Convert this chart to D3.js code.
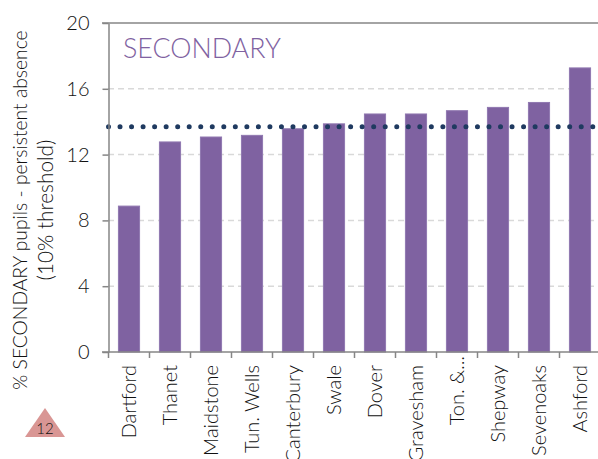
<!DOCTYPE html>
<html><head><meta charset="utf-8"><style>html,body{margin:0;background:#fff;overflow:hidden}svg{display:block}text{font-family:Lato,sans-serif;font-weight:300;fill:#111}</style>
<script src="https://cdn.jsdelivr.net/npm/d3@7"></script></head><body><script>
const categories=["Dartford","Thanet","Maidstone","Tun. Wells","Canterbury","Swale","Dover","Gravesham","Ton. &...","Shepway","Sevenoaks","Ashford"];
const values=[8.9,12.8,13.1,13.2,13.6,13.9,14.5,14.5,14.7,14.9,15.2,17.3];
const yTicks=[0,4,8,12,16,20];
const threshold=[13.7];
const svg=d3.select("body").append("svg").attr("width",598).attr("height",459);
const x=d3.scaleBand().domain(categories).range([108.5,600.5]).paddingInner(0.46).paddingOuter(0.23);
const y=d3.scaleLinear().domain([0,20]).range([352,23]);
svg.selectAll("line.g").data(yTicks.slice(1,-1)).join("line").attr("x1",108).attr("x2",598).attr("y1",d=>y(d)).attr("y2",d=>y(d)).attr("stroke","#d9d9d9").attr("stroke-width",1.5).attr("stroke-dasharray","6 4");
svg.selectAll("rect").data(values).join("rect").attr("x",(d,i)=>x(categories[i])+0.5).attr("width",x.bandwidth()-1).attr("y",d=>y(d)+0.5).attr("height",d=>y(0)-y(d)-0.5).attr("fill","#7f62a1").attr("stroke","#9078b0").attr("stroke-width",1);
svg.selectAll("line.t").data(threshold).join("line").attr("x1",108.5).attr("x2",598).attr("y1",d=>y(d)).attr("y2",d=>y(d)).attr("stroke","#1f3a60").attr("stroke-width",5).attr("stroke-linecap","round").attr("stroke-dasharray","0 11.53");
const ya=svg.append("g").attr("transform","translate(108.5,0)").call(d3.axisLeft(y).tickValues(yTicks).tickSize(6).tickSizeOuter(0).tickPadding(13));
ya.selectAll("text").style("font-size","20px");
svg.append("line").attr("x1",102).attr("x2",598).attr("y1",23).attr("y2",23).attr("stroke","#868686").attr("stroke-width",1.5);
const xa=svg.append("g").attr("transform","translate(0,352)");
xa.append("line").attr("x1",102).attr("x2",598).attr("stroke","#868686").attr("stroke-width",1.5);
xa.selectAll("line.m").data(d3.range(categories.length+1)).join("line").attr("x1",i=>108.5+i*x.step()).attr("x2",i=>108.5+i*x.step()).attr("y1",0).attr("y2",6).attr("stroke","#868686").attr("stroke-width",1.5);
svg.selectAll("text.c").data(categories).join("text").attr("class","c").attr("text-anchor","end").attr("font-size",20).attr("transform",d=>`translate(${x(d)+x.bandwidth()/2+7},${d.endsWith("...")?356:365}) rotate(-90)`).text(d=>d);
svg.selectAll(".domain,.tick line").attr("stroke","#868686").attr("stroke-width",1.5);
svg.append("text").attr("x",123).attr("y",58).attr("font-size",26.8).style("fill","#7f62a1").text("SECONDARY");
svg.append("text").attr("text-anchor","middle").attr("font-size",19.3).attr("transform","translate(27,210) rotate(-90)").text("% SECONDARY pupils - persistent absence");
svg.append("text").attr("text-anchor","middle").attr("font-size",20.8).attr("transform","translate(53,210) rotate(-90)").text("(10% threshold)");
svg.append("path").attr("d",d3.line()([[45,408],[65,437],[25,437]])+"Z").attr("fill","#d99694");
svg.append("text").attr("x",45).attr("y",434).attr("text-anchor","middle").attr("font-size",15).text("12");
</script></body></html>
